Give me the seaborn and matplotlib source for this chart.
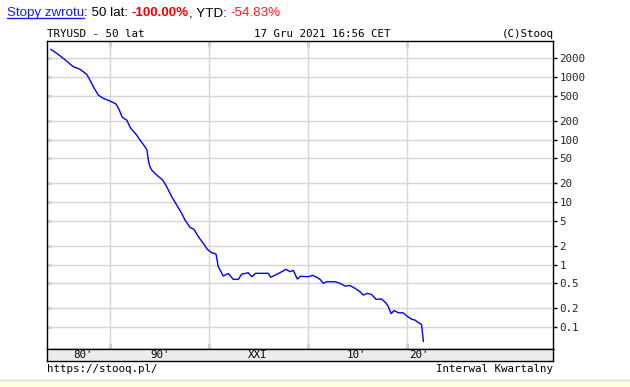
import numpy as np
import pandas as pd
import matplotlib
matplotlib.use("Agg")
import matplotlib.pyplot as plt
import seaborn as sns
from matplotlib.lines import Line2D
from matplotlib.patches import Rectangle
from matplotlib.ticker import NullLocator

# ---------------- data ----------------
years = [1983.94, 1984.55, 1985.22, 1985.90, 1986.23, 1986.91, 1987.59, 1987.92, 1988.26, 1988.76, 1989.27, 1989.95,
         1990.56, 1990.86, 1991.20, 1991.64, 1992.05, 1992.65, 1992.99, 1993.32, 1993.70, 1993.83, 1994.00, 1994.17,
         1994.68, 1995.29, 1995.69, 1996.20, 1996.71, 1997.21, 1997.55, 1998.05, 1998.46, 1998.90, 1999.40, 1999.81,
         2000.25, 2000.69, 2000.92, 2001.43, 2001.94, 2002.44, 2002.95, 2003.29, 2003.96, 2004.31, 2004.71, 2005.99,
         2006.23, 2006.84, 2007.17, 2007.78, 2008.19, 2008.52, 2008.93, 2009.25, 2010.04, 2010.49, 2010.89, 2011.23,
         2011.56, 2011.91, 2012.75, 2013.25, 2013.76, 2014.27, 2014.77, 2015.28, 2015.61, 2016.04, 2016.46, 2016.90,
         2017.46, 2017.91, 2018.15, 2018.42, 2018.75, 2019.16, 2019.67, 2020.09, 2020.52, 2020.85, 2021.21, 2021.51,
         2021.70]
values = [2775, 2393, 1991, 1615, 1462, 1328, 1105, 895, 700, 515, 456, 413,
          370, 304, 226, 205, 151, 118, 98, 83.8, 67.9, 47, 36.7, 32.5,
          27, 22.5, 17.6, 12.2, 8.95, 6.59, 5.15, 3.94, 3.66, 2.79, 2.18, 1.75,
          1.55, 1.47, 0.923, 0.655, 0.718, 0.579, 0.579, 0.700, 0.739, 0.638, 0.723, 0.723,
          0.624, 0.697, 0.739, 0.838, 0.767, 0.807, 0.586, 0.648, 0.638, 0.671, 0.624, 0.579,
          0.500, 0.531, 0.531, 0.500, 0.453, 0.461, 0.416, 0.367, 0.325, 0.346, 0.331, 0.277,
          0.281, 0.242, 0.211, 0.164, 0.184, 0.169, 0.168, 0.147, 0.133, 0.129, 0.117, 0.110,
          0.0586]
ytick_values = [0.1, 0.2, 0.5, 1, 2, 5, 10, 20, 50, 100, 200, 500, 1000, 2000]
ytick_labels = ["0.1", "0.2", "0.5", "1", "2", "5", "10", "20", "50", "100", "200", "500", "1000", "2000"]
decade_lines = [1990, 2000, 2010, 2020]
decade_label_pos = [1987.2, 1995.0, 2004.95, 2014.95, 2021.25]
decade_labels = ["80'", "90'", "XXI", "10'", "20'"]

title_left = "TRYUSD - 50 lat"
title_mid = "17 Gru 2021 16:56 CET"
title_right = "(C)Stooq"
footer_left = "https://stooq.pl/"
footer_right = "Interwal Kwartalny"
header_pieces = [("Stopy zwrotu", "#1a1aee", "normal"),
                 (": 50 lat: ", "#000000", "normal"),
                 ("-100.00%", "#ee0000", "bold"),
                 (", YTD: ", "#000000", "normal"),
                 ("-54.83%", "#ff1a1a", "normal")]

# ---------------- figure ----------------
W, H = 630, 387
sns.set_style("white")
plt.rcParams['font.family'] = ['DejaVu Sans Mono']
MONO = 7.8

fig = plt.figure(figsize=(W / 100, H / 100), dpi=100)
fig.patch.set_facecolor("white")


def fx(px):
    return px / W


def fy(py):
    return 1 - py / H


XL = (1983.57, 2034.83)
YL = (0.0445, 3767)

ax = fig.add_axes([fx(47), fy(349), (553 - 47) / W, (349 - 41) / H])
df = pd.DataFrame({"year": years, "value": values})
sns.lineplot(data=df, x="year", y="value", ax=ax, color="#0000ff", linewidth=1.0,
             estimator=None, sort=False, zorder=3)
ax.set_yscale("log")
ax.set_xlim(*XL)
ax.set_ylim(*YL)
ax.set_xlabel("")
ax.set_ylabel("")
for v in ytick_values:
    ax.axhline(v, color="#d6d6d6", lw=1.0, zorder=1)
for d in decade_lines:
    ax.axvline(d, color="#d6d6d6", lw=1.0, zorder=1)

ax.set_yticks(ytick_values)
ax.yaxis.set_minor_locator(NullLocator())
ax.tick_params(axis="y", which="major", left=True, right=False, direction="in",
               length=3, width=1, color="black", labelleft=False)
ax.set_xticks(decade_lines)
ax.xaxis.set_minor_locator(NullLocator())
ax.tick_params(axis="x", which="major", bottom=True, top=True, direction="in",
               length=4, width=1, color="black", labelbottom=False)
for s in ax.spines.values():
    s.set_color("black")
    s.set_linewidth(1.0)
    s.set_visible(True)

ax2 = ax.twinx()
ax2.set_yscale("log")
ax2.set_ylim(*YL)
ax2.set_yticks(ytick_values)
ax2.set_yticklabels(ytick_labels)
ax2.yaxis.set_minor_locator(NullLocator())
ax2.tick_params(axis="y", which="major", right=True, left=False, direction="out",
                length=3, width=1, color="black", pad=1.5, labelsize=MONO)
for s in ax2.spines.values():
    s.set_visible(False)

# grey band with decade labels
axb = fig.add_axes([fx(47), fy(361), (553 - 47) / W, 12 / H])
axb.set_facecolor("#ececec")
axb.set_xlim(*XL)
axb.set_ylim(0, 1)
axb.set_xticks([])
axb.set_yticks([])
for s in axb.spines.values():
    s.set_color("black")
    s.set_linewidth(1.0)
    s.set_visible(True)
for pos, lab in zip(decade_label_pos, decade_labels):
    axb.text(pos, 0.5, lab, ha="center", va="center", fontsize=MONO, color="black")

# titles / footers
fig.text(fx(47), fy(36.7), title_left, ha="left", va="baseline", fontsize=MONO, color="black")
fig.text(fx(254), fy(36.7), title_mid, ha="left", va="baseline", fontsize=MONO, color="black")
fig.text(fx(554), fy(36.7), title_right, ha="right", va="baseline", fontsize=MONO, color="black")
fig.text(fx(47), fy(371.5), footer_left, ha="left", va="baseline", fontsize=MONO, color="black")
fig.text(fx(553), fy(371.5), footer_right, ha="right", va="baseline", fontsize=MONO, color="black")

# header line (multi-coloured)
renderer = fig.canvas.get_renderer()


def text_width(s, weight):
    t1 = fig.text(0, 0, "|" + s + "|", fontsize=9.6, family=["Liberation Sans"], fontweight=weight)
    t2 = fig.text(0, 0, "||", fontsize=9.6, family=["Liberation Sans"], fontweight=weight)
    w = t1.get_window_extent(renderer).width - t2.get_window_extent(renderer).width
    t1.remove()
    t2.remove()
    return w


x = 6.7
for i, (txt, col, wt) in enumerate(header_pieces):
    fig.text(fx(x), fy(16.3), txt, ha="left", va="baseline", fontsize=9.6,
             family=["Liberation Sans"], fontweight=wt, color=col)
    w = text_width(txt, wt)
    if i == 0:
        fig.add_artist(Line2D([fx(x), fx(x + w)], [fy(17.8), fy(17.8)], color=col, lw=1.0))
    x += w

# bottom pale-yellow strip
fig.add_artist(Rectangle((0, 0), 1, 7.5 / H, transform=fig.transFigure,
                         facecolor="#fefee0", edgecolor="none"))
fig.add_artist(Line2D([0, 1], [7.5 / H, 7.5 / H], color="#d8d8d8", lw=1.0))

fig.savefig("out.png", dpi=100)
